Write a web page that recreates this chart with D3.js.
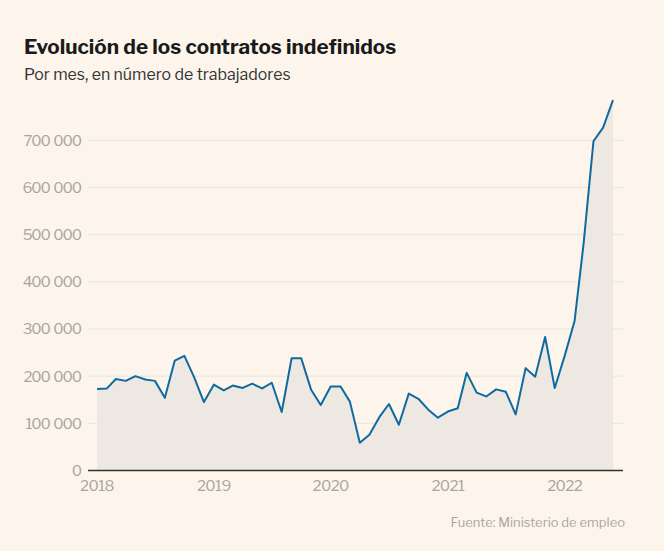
<!DOCTYPE html>
<html><head><meta charset="utf-8">
<script src="https://cdn.jsdelivr.net/npm/d3@7"></script>
<style>
html,body{margin:0;padding:0;background:#fdf5ec;}
svg{display:block;}
</style></head>
<body>
<svg id="c" width="664" height="551"></svg>
<script>
const title = "Evolución de los contratos indefinidos";
const subtitle = "Por mes, en número de trabajadores";
const source = "Fuente: Ministerio de empleo";
const startYear = 2018, startMonth = 0;
const values = [
 173000,174000,194000,190000,200000,193000,190000,154000,233000,243000,197000,145000,
 182000,170000,180000,175000,184000,174000,186000,124000,238000,238000,171000,139000,
 178000,178000,146000,59000,76000,113000,141000,97000,163000,152000,129000,112000,
 125000,132000,207000,165000,157000,172000,167000,119000,217000,199000,283000,175000,
 243000,317000,480000,698000,727000,785000
];
const yTicks = [0,100000,200000,300000,400000,500000,600000,700000];
const xTickYears = [2018,2019,2020,2021,2022];

const dates = values.map((v,i)=>new Date(startYear, startMonth+i, 1));
const data = values.map((v,i)=>({d:dates[i], v}));

const svg = d3.select("#c");
svg.append("rect").attr("width",664).attr("height",551).attr("fill","#fdf5ec");

const x = d3.scaleTime().domain([new Date(2018,0,1), new Date(2022,5,1)]).range([97, 613]);
const y = d3.scaleLinear().domain([0,700000]).range([470.5,140.3]);
const gridX0 = 88, gridX1 = 623;
const ff = "'Libre Franklin','Roboto',sans-serif";

const fmt = v => v===0 ? "0" : d3.format(",")(v).replace(/,/g,"\u2009");

// grid
svg.append("g").selectAll("line").data(yTicks.filter(t=>t>0)).join("line")
  .attr("x1",gridX0).attr("x2",gridX1)
  .attr("y1",d=>y(d)).attr("y2",d=>y(d))
  .attr("stroke","#e5e4e2").attr("stroke-width",1);

// y labels
svg.append("g").selectAll("text").data(yTicks).join("text")
  .attr("x",81).attr("y",d=>y(d)+5.5)
  .attr("text-anchor","end")
  .attr("font-family",ff).attr("letter-spacing","-1.1px")
  .attr("font-size",15).attr("fill","#a8a6a3")
  .text(fmt);

// area
svg.append("path").datum(data)
  .attr("fill","#ede8e2")
  .attr("d", d3.area().x(d=>x(d.d)).y0(y(0)).y1(d=>y(d.v)));

// baseline
svg.append("line").attr("x1",gridX0).attr("x2",gridX1)
  .attr("y1",y(0)).attr("y2",y(0)).attr("stroke","#333").attr("stroke-width",1.3);

// line
svg.append("path").datum(data)
  .attr("fill","none").attr("stroke","#0f6a9f").attr("stroke-width",2)
  .attr("stroke-linejoin","round")
  .attr("d", d3.line().x(d=>x(d.d)).y(d=>y(d.v)));

// x labels
svg.append("g").selectAll("text").data(xTickYears).join("text")
  .attr("x",d=>x(new Date(d,0,1))).attr("y",491)
  .attr("text-anchor","middle")
  .attr("font-family",ff).attr("letter-spacing","-0.6px")
  .attr("font-size",15).attr("fill","#a8a6a3")
  .text(d=>d);

// titles
svg.append("text").attr("x",24).attr("y",54)
  .attr("font-family",ff)
  .attr("font-weight",700).attr("font-size",20.7).attr("fill","#1a1a1a")
  .text(title);
svg.append("text").attr("x",24).attr("y",80)
  .attr("font-family",ff)
  .attr("font-size",15.9).attr("fill","#333")
  .text(subtitle);
svg.append("text").attr("x",625).attr("y",527)
  .attr("text-anchor","end")
  .attr("font-family",ff)
  .attr("font-size",13).attr("fill","#a8a6a3")
  .text(source);
</script>
</body></html>
